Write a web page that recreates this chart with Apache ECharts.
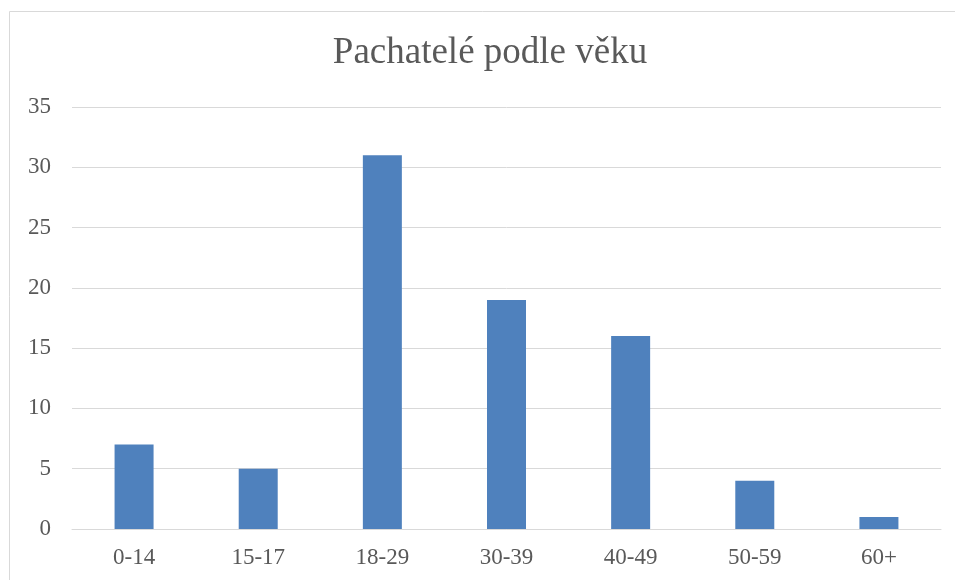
<!DOCTYPE html>
<html>
<head>
<meta charset="utf-8">
<style>
  html, body { margin: 0; padding: 0; background: #fff; }
  #chart { width: 955px; height: 580px; }
</style>
<script src="https://cdn.jsdelivr.net/npm/echarts@6/dist/echarts.min.js"></script>
</head>
<body>
<div id="chart"></div>
<script>
  // data
  const categories = ['0-14', '15-17', '18-29', '30-39', '40-49', '50-59', '60+'];
  const offenders = [7, 5, 31, 19, 16, 4, 1];
  const yTicks = { min: 0, max: 35, interval: 5 };

  const font = '"Liberation Serif", "Times New Roman", serif';

  const chart = echarts.init(document.getElementById('chart'));

  chart.setOption({
    animation: false,
    title: {
      text: 'Pachatelé podle věku',
      left: 485,
      top: 30,
      textAlign: 'center',
      textStyle: {
        fontFamily: font,
        fontSize: 37,
        fontWeight: 'normal',
        color: '#595959'
      }
    },
    graphic: [
      {
        type: 'rect',
        silent: true,
        shape: { x: 9.5, y: 11.5, width: 960, height: 600 },
        style: { fill: 'none', stroke: '#d9d9d9', lineWidth: 1 }
      }
    ],
    grid: {
      left: 72,
      right: 14,
      top: 107,
      bottom: 51
    },
    xAxis: {
      type: 'category',
      data: categories,
      axisLine: { lineStyle: { color: '#d9d9d9', width: 1 } },
      axisTick: { show: false },
      axisLabel: {
        fontFamily: font,
        fontSize: 23,
        color: '#595959',
        margin: 17
      }
    },
    yAxis: {
      type: 'value',
      min: yTicks.min,
      max: yTicks.max,
      interval: yTicks.interval,
      axisLine: { show: false },
      axisTick: { show: false },
      splitLine: { lineStyle: { color: '#d9d9d9', width: 1 } },
      axisLabel: {
        fontFamily: font,
        fontSize: 23,
        color: '#595959',
        margin: 21
      }
    },
    series: [
      {
        name: 'Pachatelé',
        type: 'bar',
        data: offenders,
        barWidth: 39,
        itemStyle: { color: '#4f81bd' }
      }
    ]
  });
</script>
</body>
</html>
